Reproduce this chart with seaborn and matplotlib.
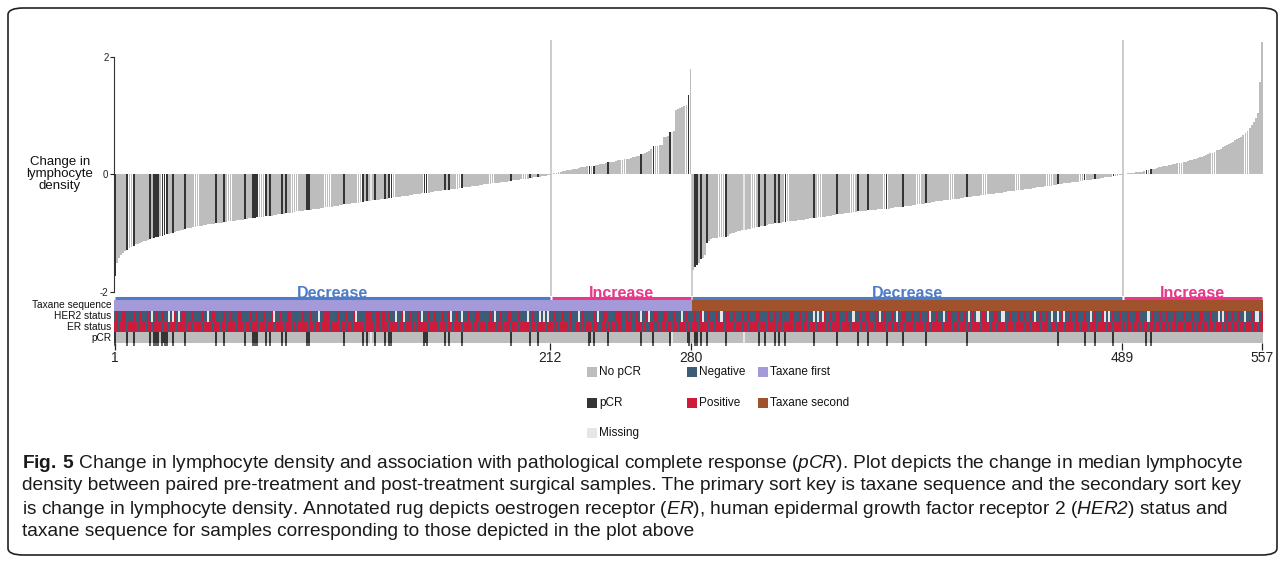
import numpy as np
import pandas as pd
import matplotlib
matplotlib.use("Agg")
import matplotlib.pyplot as plt
import seaborn as sns
from matplotlib.colors import ListedColormap
from matplotlib.patches import FancyBboxPatch, Rectangle

sns.set_theme(style="white")
plt.rcParams["font.family"] = ["Liberation Sans", "DejaVu Sans"]
plt.rcParams["mathtext.fontset"] = "custom"
plt.rcParams["mathtext.rm"] = "Liberation Sans"
plt.rcParams["mathtext.sf"] = "Liberation Sans:italic"
plt.rcParams["mathtext.bf"] = "Liberation Sans:bold"

# change in lymphocyte density (x100), plot order, one list per block
first_decrease = [
    -173, -150, -142, -137, -134, -131, -129, -126, -123, -121,
    -119, -118, -116, -115, -114, -113, -111, -110, -109, -108,
    -107, -106, -105, -104, -103, -102, -101, -100, -99, -98,
    -97, -96, -95, -94, -93, -92, -92, -91, -90, -89,
    -88, -87, -87, -86, -86, -85, -85, -84, -84, -83,
    -83, -82, -82, -81, -81, -80, -80, -79, -79, -78,
    -78, -77, -77, -76, -76, -75, -75, -74, -74, -73,
    -73, -72, -72, -71, -71, -70, -70, -69, -69, -68,
    -68, -67, -67, -66, -66, -65, -65, -64, -63, -63,
    -62, -62, -61, -61, -60, -60, -59, -59, -58, -58,
    -57, -57, -56, -56, -55, -55, -54, -53, -53, -52,
    -52, -51, -51, -50, -50, -49, -49, -48, -48, -47,
    -47, -46, -46, -45, -45, -44, -44, -43, -43, -42,
    -42, -41, -41, -40, -40, -39, -39, -38, -38, -37,
    -37, -36, -36, -35, -35, -34, -34, -33, -33, -32,
    -32, -31, -31, -30, -30, -29, -29, -28, -28, -27,
    -27, -26, -26, -25, -25, -24, -24, -23, -23, -22,
    -22, -21, -21, -20, -20, -19, -19, -18, -18, -17,
    -17, -16, -16, -15, -15, -14, -14, -13, -13, -12,
    -12, -11, -11, -10, -10, -9, -9, -8, -8, -7,
    -7, -6, -6, -5, -5, -4, -4, -3, -3, -2,
    -1, -1,
]
first_increase = [
    1, 2, 3, 4, 5, 6, 6, 7, 8, 8,
    9, 10, 10, 11, 12, 12, 13, 14, 15, 15,
    15, 16, 16, 17, 17, 18, 19, 21, 21, 22,
    22, 23, 24, 24, 25, 26, 26, 27, 28, 29,
    30, 31, 32, 34, 35, 36, 38, 40, 44, 48,
    49, 49, 50, 51, 63, 64, 65, 72, 72, 74,
    109, 112, 114, 115, 117, 118, 135, 180,
]
second_decrease = [
    -162, -158, -155, -150, -144, -142, -138, -117, -113, -110,
    -109, -108, -108, -107, -107, -107, -106, -104, -102, -100,
    -99, -98, -97, -96, -95, -94, -94, -93, -93, -92,
    -91, -90, -89, -88, -88, -87, -86, -85, -85, -84,
    -83, -83, -82, -82, -81, -81, -80, -80, -79, -79,
    -79, -78, -78, -77, -77, -76, -76, -75, -75, -74,
    -74, -73, -73, -72, -72, -71, -71, -70, -69, -69,
    -68, -68, -67, -67, -66, -66, -65, -65, -64, -64,
    -63, -63, -62, -62, -62, -61, -61, -60, -60, -60,
    -59, -59, -59, -58, -58, -58, -57, -57, -56, -56,
    -56, -55, -55, -54, -54, -53, -53, -52, -52, -51,
    -51, -50, -50, -49, -48, -48, -47, -47, -46, -46,
    -45, -45, -44, -44, -43, -43, -42, -42, -41, -41,
    -40, -40, -39, -39, -38, -38, -37, -37, -36, -36,
    -35, -35, -35, -34, -34, -33, -33, -32, -32, -31,
    -31, -30, -30, -29, -29, -28, -28, -27, -27, -26,
    -26, -25, -25, -24, -24, -23, -23, -22, -22, -21,
    -21, -20, -20, -19, -19, -18, -18, -17, -17, -16,
    -15, -15, -14, -14, -13, -13, -12, -12, -11, -11,
    -10, -10, -9, -9, -8, -8, -7, -7, -6, -6,
    -5, -5, -4, -4, -3, -3, -2, -1, -1,
]
second_increase = [
    1, 1, 2, 2, 3, 3, 4, 4, 5, 5,
    6, 7, 8, 9, 10, 10, 11, 12, 13, 14,
    14, 15, 16, 16, 17, 18, 19, 19, 20, 21,
    22, 23, 24, 25, 26, 27, 28, 29, 30, 31,
    33, 34, 36, 37, 39, 41, 42, 44, 46, 48,
    50, 52, 54, 56, 58, 60, 62, 64, 67, 70,
    74, 79, 85, 90, 96, 104, 158, 225,
]

block_labels = ["Decrease", "Increase", "Decrease", "Increase"]
block_taxane = ["Taxane first", "Taxane first", "Taxane second", "Taxane second"]
tick_samples = [1, 212, 280, 489, 557]

# 1-based sample positions
pcr_samples = [1, 7, 10, 18, 20, 21, 22, 24, 25, 26, 29, 35, 50, 54, 64, 68, 69, 70,
               74, 76, 82, 84, 94, 95, 112, 121, 123, 127, 132, 134, 135, 151, 152,
               161, 163, 169, 193, 202, 206, 231, 233, 240, 256, 262, 270, 279, 282,
               283, 285, 288, 297, 313, 316, 321, 323, 326, 340, 351, 361, 366, 375,
               383, 394, 414, 458, 471, 476, 485, 501, 503]
pcr_missing = [125, 271, 306]

# N = negative, P = positive, M = missing (groups of ten samples)
her2_status = (
    "NPNNPPNNNP NNPNNNPNMN PNNPNNMNMP NMNPPNNNPN NNPNNMNPPN "
    "NNNPNNPNNN PPNNNNPNNP NNPNNNPMNN PNNNPPNNNN NPNNNPNNNM "
    "NNPPNNNNPN NNPNNNPMNN NNPPPNNPPN PPNPNNMNNP MNNPNNNPNM "
    "NNPNNPNNNP NNPMNNPNMN NPNNNPPNNN NNPNMNNPNN NPPNNNPNNN "
    "MNPNNNMNMN MNNPNNNPNN NPNNNMNPNN NNPNMNNPPN NNNPPPNNPN "
    "PNNPNMNNPM NNPNNNPPNN NPNNNMNPNN NPNNPMNNPN NNPNMNPPNN "
    "PNNNPNNPNN NPPNNNNPNN PNNPNNNPPN NNPNNPNNNM NMNMPNNPNN "
    "PPNNNPNNMN NPNNPPNNNP NMNPNNNPNM NNPPNNNPNN PNNNPMNNPN "
    "NNMNPPNNNP NNPNMNPNMM NPNMNNPPNN MMNNPNNNPN NPNNPNMNNP "
    "NNPNMNNMNP MNNPNNPNNN PNNMNPNNNP MNMNPNNPNN NPNNNPPNNN "
    "NMNPNNNPNN PNNNPNNNPN NNPNNNPPNN NPNNNMNMNP NNPNNPNNMN "
    "NPNMMNP"
)
er_status = (
    "PPNPPPNPPP PNPPPNPPNP PPPNPPNPPP NPPPPNPPNP PPNPPPPNPP "
    "PNPPNPPPPN PPPNPPNPPP NPPNPPPNPP PPNPPPNPNP PPPPNPPNPP "
    "NPPPNPPPPN PPNPPNPPPP PNPPPPNPPN PPPNPPPNPP NPPPNPNPPP "
    "PPNPPPPNPP PNPPNPPPNP PPPNPPNPPP NPPPPNPPNP PPNPPPNPPP "
    "PNPPNPPPPN PPPNPNPPPP NPNNPPNPNP PNPPNNPPNP NPPNPPNNPP "
    "PNNPPPNPNN PPNPNPPNPP NPPNPPPNPN PPPNPPPPNP PNPPPNPPPP "
    "NPPPNPPNPP PPNPPPNPPP PNPPNPPPPN PPPNPPNPPP NPPPPNPNPP "
    "PPNPPPPNPP PNPPNPPPNP PPPPNPPNPP NPPNPPPPNP PPNPPNPPPP "
    "PNPPPPNPPN PPPNPNPPPP NPPPNPPNPP PPNPPPNPPP PNPPNPPPPN "
    "PPPNPPNPPP NPPPPNPPNP PPNPPPNPPP PNPPNPPPNP NPPNPPNPNP "
    "PNPPNPPNPP NPNPPNPPNP PPNPNPPNPP NPPNPPPNPN PPNPPNPPNP "
    "PNPPNPP"
)

row_labels = ["Taxane sequence", "HER2 status", "ER status", "pCR"]

pcr_colors = {"No pCR": "#bdbdbd", "pCR": "#343434", "Missing": "#e6e6e6"}
status_colors = {"Negative": "#3d5c78", "Positive": "#cc1b3b"}
taxane_colors = {"Taxane first": "#a59ad9", "Taxane second": "#a0522d"}
block_colors = {"Decrease": "#4f7cc6", "Increase": "#e8388a"}

# ---------------- assemble
blocks = [first_decrease, first_increase, second_decrease, second_increase]
block_sizes = [len(b) for b in blocks]
change = np.concatenate(blocks) / 100.0
n = len(change)

pcr = np.array(["No pCR"] * n, dtype=object)
pcr[np.array(pcr_samples) - 1] = "pCR"
pcr[np.array(pcr_missing) - 1] = "Missing"

bars = pd.DataFrame({"pos": np.arange(n), "change": change, "pcr": pcr})

her2 = list(her2_status.replace(" ", ""))
er = list(er_status.replace(" ", ""))

legend_items = [("No pCR", pcr_colors["No pCR"]), ("pCR", pcr_colors["pCR"]),
                ("Missing", pcr_colors["Missing"]),
                ("Negative", status_colors["Negative"]), ("Positive", status_colors["Positive"]),
                ("Taxane first", taxane_colors["Taxane first"]),
                ("Taxane second", taxane_colors["Taxane second"])]
codes = {name: k for k, (name, _) in enumerate(legend_items)}
cmap = ListedColormap([c for _, c in legend_items])

status_code = {"N": codes["Negative"], "P": codes["Positive"], "M": codes["Missing"]}
taxane_row = np.concatenate([[codes[t]] * s for t, s in zip(block_taxane, block_sizes)])
rug = np.vstack([
    taxane_row,
    [status_code[c] for c in her2],
    [status_code[c] for c in er],
    [codes[p] for p in pcr],
]).astype(float)

# ---------------- figure
W, H = 1285, 563
fig = plt.figure(figsize=(W / 100, H / 100), dpi=100)


def box(x0, y0, x1, y1):
    return [x0 / W, 1 - y1 / H, (x1 - x0) / W, (y1 - y0) / H]


ax = fig.add_axes(box(114, 40, 1263, 296))
ax_rug = fig.add_axes(box(114, 300, 1263, 343))

sns.barplot(data=bars, x="pos", y="change", hue="pcr",
            hue_order=["No pCR", "pCR", "Missing"], palette=pcr_colors,
            dodge=False, width=0.9, saturation=1, errorbar=None,
            linewidth=0, legend=False, ax=ax)

edges = np.cumsum([0] + block_sizes)
for k, e in enumerate(edges[1:-1]):
    top = 2.29 if k != 1 else 0
    ax.vlines(e - 0.5, -2.07, top, color="#c4c4c4", lw=1.2, zorder=0)

ax.set_xlim(-0.5, n - 0.5)
ax.set_ylim(-2.07, 2.29)
ax.set_xticks([])
ax.set_xlabel("")
ax.set_ylabel("")
ax.set_yticks([-2, 0, 2])
ax.set_yticklabels(["-2", "0", "2"])
ax.tick_params(axis="y", left=True, length=3, width=0.8, labelsize=7, pad=1,
               colors="#222222")
sns.despine(ax=ax, bottom=True)
ax.spines["left"].set_bounds(-2, 2)
ax.spines["left"].set_color("#333333")
ax.spines["left"].set_linewidth(0.8)
ax.patch.set_alpha(0)

fig.text(60 / W, 1 - 174 / H, "Change in\nlymphocyte\ndensity", ha="center",
         va="center", fontsize=9.5, linespacing=0.98, color="#111111")

# ---------------- annotated rug
sns.heatmap(rug, cmap=cmap, vmin=-0.5, vmax=len(legend_items) - 0.5, cbar=False,
            linewidths=0, xticklabels=False, yticklabels=row_labels, ax=ax_rug)
ax_rug.set_xlim(0, n)
ax_rug.set_xticks([t - 0.5 for t in tick_samples])
ax_rug.set_xticklabels([str(t) for t in tick_samples])
ax_rug.tick_params(axis="x", bottom=True, length=5, width=0.9, labelsize=10,
                   pad=1, colors="#222222")
ax_rug.tick_params(axis="y", left=False, length=0, labelsize=7.3, pad=2,
                   colors="#111111")
plt.setp(ax_rug.get_yticklabels(), rotation=0)

pcr_pos = np.flatnonzero(pcr == "pCR") + 0.5
ax_rug.vlines(pcr_pos, 3, 4.3, color=pcr_colors["pCR"], lw=1.1, clip_on=False)

for k, (lab, s0, s1) in enumerate(zip(block_labels, edges[:-1], edges[1:])):
    col = block_colors[lab]
    ax_rug.hlines(-0.15, s0 + 0.4, s1 - 0.4, color=col, lw=2.2, clip_on=False)
    ax_rug.text((s0 + s1) / 2, -0.6, lab, ha="center", va="center",
                fontsize=11.5, fontweight="bold", color=col, clip_on=False)

# ---------------- legend
col_x = [587, 687, 758]
row_y = [372, 403, 433]
slots = [(0, 0), (0, 1), (0, 2), (1, 0), (1, 1), (2, 0), (2, 1)]
for (name, color), (cx, ry) in zip(legend_items, slots):
    x0, y0 = col_x[cx], row_y[ry]
    fig.patches.append(Rectangle(((x0) / W, 1 - (y0 + 5) / H), 10 / W, 10 / H,
                                 transform=fig.transFigure, facecolor=color,
                                 edgecolor="none"))
    fig.text((x0 + 12) / W, 1 - y0 / H, name, ha="left", va="center",
             fontsize=8.5, color="#111111")

# ---------------- caption (italic parts use the sf slot, mapped to italic)
caption = [
    r"$\bf{Fig.\,5}$ Change in lymphocyte density and association with pathological complete response ($\mathsf{pCR}$). Plot depicts the change in median lymphocyte",
    "density between paired pre-treatment and post-treatment surgical samples. The primary sort key is taxane sequence and the secondary sort key",
    r"is change in lymphocyte density. Annotated rug depicts oestrogen receptor ($\mathsf{ER}$), human epidermal growth factor receptor 2 ($\mathsf{HER2}$) status and",
    "taxane sequence for samples corresponding to those depicted in the plot above",
]
for k, line in enumerate(caption):
    fig.text(22 / W, 1 - (463 + 23 * k) / H, line, ha="left", va="center",
             fontsize=13.8, color="#1a1a1a")

frame = FancyBboxPatch((8 / W, 8 / H), 1269 / W, 547 / H,
                       boxstyle="round,pad=0,rounding_size=0.012",
                       transform=fig.transFigure, facecolor="none",
                       edgecolor="#222222", linewidth=1.2)
fig.patches.append(frame)

fig.savefig("out.png", dpi=100)
